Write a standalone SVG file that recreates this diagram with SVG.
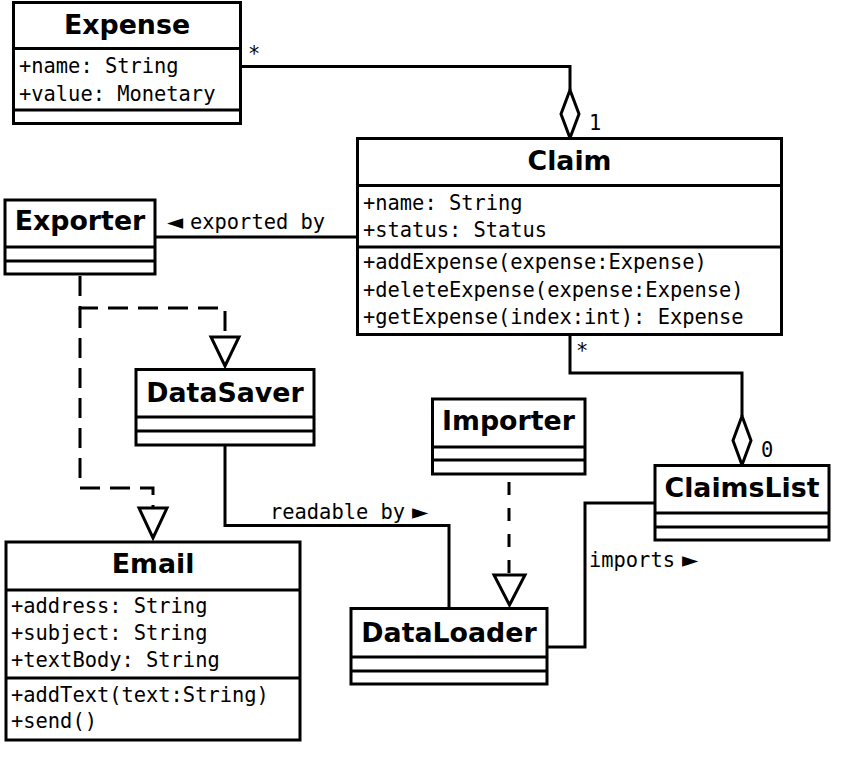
<svg xmlns="http://www.w3.org/2000/svg" width="861" height="771" viewBox="0 0 861 771">
<style>
.box{fill:#fff;stroke:#000;stroke-width:3}
.div{stroke:#000;stroke-width:3;fill:none}
.ttl{font-family:"DejaVu Sans",Verdana,sans-serif;font-weight:bold;font-size:26.8px;text-anchor:middle;fill:#000}
.mono{font-family:"DejaVu Sans Mono","Liberation Mono",monospace;font-size:20.4px;fill:#000}
.tri{font-family:"DejaVu Sans",sans-serif;font-size:21px}
.sp{font-size:3px}
.ln{stroke:#000;stroke-width:3;fill:none}
.dash{stroke:#000;stroke-width:3;fill:none;stroke-dasharray:20 10}
.dash2{stroke:#000;stroke-width:3;fill:none;stroke-dasharray:13 13}
.head{fill:#fff;stroke:#000;stroke-width:3}
</style>
<rect width="861" height="771" fill="#fff"/>
<g id="connectors">
  <polyline class="ln" points="240,66.5 570,66.5 570,90"/>
  <polygon class="head" points="570,90 579,114 570,138 561,114"/>
  <text class="mono" x="248" y="61">*</text>
  <text class="mono" x="589" y="130">1</text>

  <polyline class="ln" points="570,335 570,373 742,373 742,416"/>
  <polygon class="head" points="742,416 751,440.5 742,465 733,440.5"/>
  <text class="mono" x="576" y="358">*</text>
  <text class="mono" x="761" y="457">0</text>

  <line class="ln" x1="155" y1="237" x2="357" y2="237"/>
  <text class="mono" x="167" y="229"><tspan class="tri">◄</tspan><tspan class="sp"> </tspan><tspan x="190">exported by</tspan></text>

  <path class="dash" d="M80 276 V308 H225 V337"/>
  <polygon class="head" points="211,337 239,337 225,366"/>
  <path class="dash" d="M80 308 V488 H153 V508"/>
  <polygon class="head" points="139,508 167,508 153,538"/>

  <path class="dash2" d="M509 482 V573"/>
  <polygon class="head" points="494,575 525,575 509.5,605"/>

  <polyline class="ln" points="225,445 225,525.5 449,525.5 449,608"/>
  <text class="mono" x="270" y="519">readable by<tspan class="sp"> </tspan><tspan class="tri" x="412">►</tspan></text>

  <polyline class="ln" points="655,503 585,503 585,647 547,647"/>
  <text class="mono" x="589" y="567">imports<tspan class="sp"> </tspan><tspan class="tri" x="682">►</tspan></text>
</g>

<g id="Expense">
  <rect class="box" x="13.5" y="2.5" width="227" height="121"/>
  <line class="div" x1="13.5" y1="48.5" x2="240.5" y2="48.5"/>
  <line class="div" x1="13.5" y1="110" x2="240.5" y2="110"/>
  <text class="ttl" x="127" y="33.5">Expense</text>
  <text class="mono" x="19" y="73">+name: String</text>
  <text class="mono" x="19" y="101">+value: Monetary</text>
</g>

<g id="Claim">
  <rect class="box" x="357.5" y="138.5" width="424" height="196"/>
  <line class="div" x1="357.5" y1="185.5" x2="781.5" y2="185.5"/>
  <line class="div" x1="357.5" y1="247" x2="781.5" y2="247"/>
  <text class="ttl" x="569.5" y="170">Claim</text>
  <text class="mono" x="363" y="210">+name: String</text>
  <text class="mono" x="363" y="237">+status: Status</text>
  <text class="mono" x="363" y="269">+addExpense(expense:Expense)</text>
  <text class="mono" x="363" y="296.5">+deleteExpense(expense:Expense)</text>
  <text class="mono" x="363" y="324">+getExpense(index:int): Expense</text>
</g>

<g id="Exporter">
  <rect class="box" x="5" y="200" width="150" height="74"/>
  <line class="div" x1="5" y1="247" x2="155" y2="247"/>
  <line class="div" x1="5" y1="261" x2="155" y2="261"/>
  <text class="ttl" x="80" y="230">Exporter</text>
</g>

<g id="DataSaver">
  <rect class="box" x="136" y="369.5" width="178" height="75.5"/>
  <line class="div" x1="136" y1="417" x2="314" y2="417"/>
  <line class="div" x1="136" y1="431" x2="314" y2="431"/>
  <text class="ttl" x="225" y="402">DataSaver</text>
</g>

<g id="Email">
  <rect class="box" x="6" y="542" width="294" height="198"/>
  <line class="div" x1="6" y1="590" x2="300" y2="590"/>
  <line class="div" x1="6" y1="678" x2="300" y2="678"/>
  <text class="ttl" x="153" y="573">Email</text>
  <text class="mono" x="11" y="613">+address: String</text>
  <text class="mono" x="11" y="640">+subject: String</text>
  <text class="mono" x="11" y="667">+textBody: String</text>
  <text class="mono" x="11" y="702">+addText(text:String)</text>
  <text class="mono" x="11" y="728">+send()</text>
</g>

<g id="Importer">
  <rect class="box" x="432.5" y="399" width="152.5" height="75"/>
  <line class="div" x1="432.5" y1="447" x2="585" y2="447"/>
  <line class="div" x1="432.5" y1="460" x2="585" y2="460"/>
  <text class="ttl" x="508.5" y="430">Importer</text>
</g>

<g id="ClaimsList">
  <rect class="box" x="655" y="465.5" width="174" height="74.5"/>
  <line class="div" x1="655" y1="513" x2="829" y2="513"/>
  <line class="div" x1="655" y1="527" x2="829" y2="527"/>
  <text class="ttl" x="742" y="497">ClaimsList</text>
</g>

<g id="DataLoader">
  <rect class="box" x="351" y="608.5" width="196" height="75.5"/>
  <line class="div" x1="351" y1="657" x2="547" y2="657"/>
  <line class="div" x1="351" y1="671" x2="547" y2="671"/>
  <text class="ttl" x="449" y="642">DataLoader</text>
</g>
</svg>
